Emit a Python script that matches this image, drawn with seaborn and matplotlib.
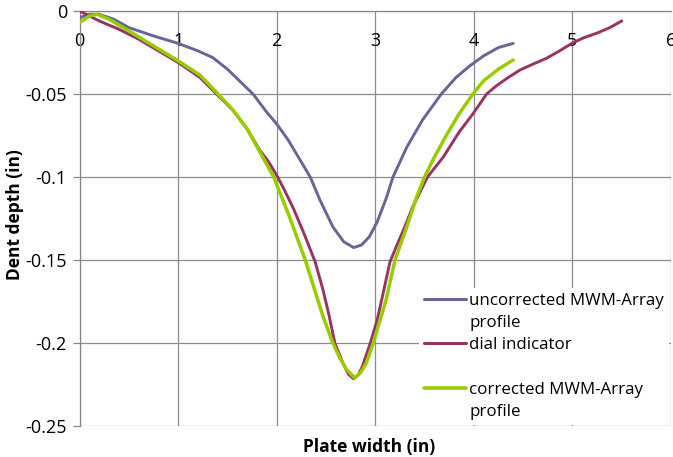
import matplotlib
matplotlib.use("Agg")
import matplotlib.pyplot as plt
from matplotlib.lines import Line2D
import seaborn as sns
import pandas as pd

# ---- data ----
unc_x = [0.00, 0.10, 0.20, 0.35, 0.50, 0.75, 1.00, 1.20, 1.35, 1.50, 1.76, 1.90, 2.00,
         2.12, 2.24, 2.34, 2.44, 2.57, 2.68, 2.78, 2.86, 2.94, 3.02, 3.11, 3.18, 3.32,
         3.48, 3.67, 3.82, 3.96, 4.10, 4.25, 4.40]
unc_y = [-0.004, -0.002, -0.002, -0.005, -0.010, -0.015, -0.0195, -0.024, -0.028, -0.035,
         -0.050, -0.061, -0.068, -0.078, -0.090, -0.100, -0.114, -0.130, -0.139, -0.1425,
         -0.141, -0.136, -0.127, -0.113, -0.100, -0.082, -0.0656, -0.050, -0.040, -0.033,
         -0.027, -0.022, -0.0195]

dial_x = [0.00, 0.10, 0.20, 0.40, 0.60, 0.80, 1.00, 1.22, 1.39, 1.56, 1.70, 1.83, 1.92,
          2.01, 2.08, 2.17, 2.27, 2.33, 2.39, 2.47, 2.53, 2.59, 2.67, 2.73, 2.78, 2.83,
          2.87, 2.95, 3.02, 3.08, 3.15, 3.22, 3.30, 3.38, 3.53, 3.69, 3.85, 3.99, 4.13,
          4.23, 4.35, 4.47, 4.60, 4.74, 4.87, 5.00, 5.12, 5.25, 5.38, 5.50]
dial_y = [0.000, -0.003, -0.006, -0.011, -0.017, -0.024, -0.031, -0.040, -0.050, -0.060,
          -0.071, -0.084, -0.091, -0.100, -0.108, -0.119, -0.133, -0.142, -0.151, -0.168,
          -0.183, -0.200, -0.212, -0.219, -0.2215, -0.219, -0.214, -0.200, -0.186, -0.170,
          -0.151, -0.141, -0.130, -0.118, -0.100, -0.088, -0.073, -0.062, -0.050, -0.045,
          -0.040, -0.0355, -0.032, -0.0284, -0.024, -0.0193, -0.016, -0.0133, -0.010, -0.006]

cor_x = [0.00, 0.05, 0.10, 0.18, 0.30, 0.50, 0.75, 1.00, 1.22, 1.39, 1.56, 1.70, 1.83,
         1.97, 2.13, 2.29, 2.47, 2.57, 2.64, 2.71, 2.79, 2.85, 2.91, 2.98, 3.05, 3.11,
         3.20, 3.32, 3.42, 3.50, 3.60, 3.72, 3.85, 3.99, 4.10, 4.25, 4.40]
cor_y = [-0.007, -0.005, -0.003, -0.002, -0.005, -0.012, -0.021, -0.030, -0.0385, -0.049,
         -0.060, -0.071, -0.085, -0.100, -0.124, -0.150, -0.184, -0.200, -0.209, -0.216,
         -0.221, -0.218, -0.212, -0.200, -0.186, -0.174, -0.150, -0.130, -0.112, -0.100,
         -0.088, -0.075, -0.062, -0.050, -0.042, -0.035, -0.0295]

series_names = ["uncorrected MWM-Array profile", "dial indicator", "corrected MWM-Array profile"]
legend_rows = ["uncorrected MWM-Array", "profile", "dial indicator", " ",
               "corrected MWM-Array", "profile"]
x_ticks = [0, 1, 2, 3, 4, 5, 6]
y_ticks = [-0.25, -0.2, -0.15, -0.1, -0.05, 0]
y_ticklabels = ["-0.25", "-0.2", "-0.15", "-0.1", "-0.05", "0"]
x_label = "Plate width (in)"
y_label = "Dent depth (in)"

colors = ["#666699", "#993366", "#99CC00"]
widths = [2.1, 2.1, 2.5]

df = pd.concat([
    pd.DataFrame({"x": unc_x, "y": unc_y, "s": series_names[0]}),
    pd.DataFrame({"x": dial_x, "y": dial_y, "s": series_names[1]}),
    pd.DataFrame({"x": cor_x, "y": cor_y, "s": series_names[2]}),
])

sns.set_theme(style="white")
plt.rcParams["font.family"] = ["Open Sans", "DejaVu Sans"]

fig = plt.figure(figsize=(6.73, 4.57), dpi=100)
ax = fig.add_axes([79.5 / 673, 1 - 426 / 457, (671 - 79.5) / 673, (426 - 11) / 457])

for name, c, lw in zip(series_names, colors, widths):
    sns.lineplot(data=df[df["s"] == name], x="x", y="y", sort=False, color=c,
                 linewidth=lw, ax=ax, legend=False, zorder=3)

ax.set_xlim(0, 6)
ax.set_ylim(-0.25, 0)
ax.set_xticks(x_ticks)
ax.set_xticklabels([str(t) for t in x_ticks])
ax.set_yticks(y_ticks)
ax.set_yticklabels(y_ticklabels)

grid_c = "#8c8c8c"
ax.grid(True, color=grid_c, linewidth=0.9)
ax.set_axisbelow(True)
for s in ["top", "right"]:
    ax.spines[s].set_visible(False)
ax.spines["bottom"].set_position(("data", 0))
ax.spines["bottom"].set_color("#868686")
ax.spines["left"].set_color("#868686")
ax.spines["bottom"].set_linewidth(0.9)
ax.spines["left"].set_linewidth(0.9)

ax.tick_params(axis="x", length=0, pad=15, labelsize=13, labelcolor="black")
ax.tick_params(axis="y", left=True, length=5, width=0.9, color="#868686", pad=4,
               labelsize=13, labelcolor="black")

ax.set_xlabel(x_label, fontsize=12.5, fontweight="bold", color="black")
ax.xaxis.set_label_coords(0.49, -0.03)
ax.set_ylabel(y_label, fontsize=12.5, fontweight="bold", color="black")
ax.yaxis.set_label_coords(-0.093, 0.51)

handles = [Line2D([], [], color=colors[0], lw=2.2), Line2D([], [], color="none"),
           Line2D([], [], color=colors[1], lw=2.2), Line2D([], [], color="none"),
           Line2D([], [], color=colors[2], lw=2.6), Line2D([], [], color="none")]
leg = ax.legend(handles, legend_rows, loc="lower left", bbox_to_anchor=(0.574, 0.003),
                frameon=True, facecolor="white", edgecolor="none", framealpha=1,
                fancybox=False, handlelength=2.45, handletextpad=0.2, labelspacing=0.36,
                borderpad=0.3, borderaxespad=0, fontsize=12.2)
for t in leg.get_texts():
    t.set_color("black")

fig.savefig("out.png", dpi=100)
